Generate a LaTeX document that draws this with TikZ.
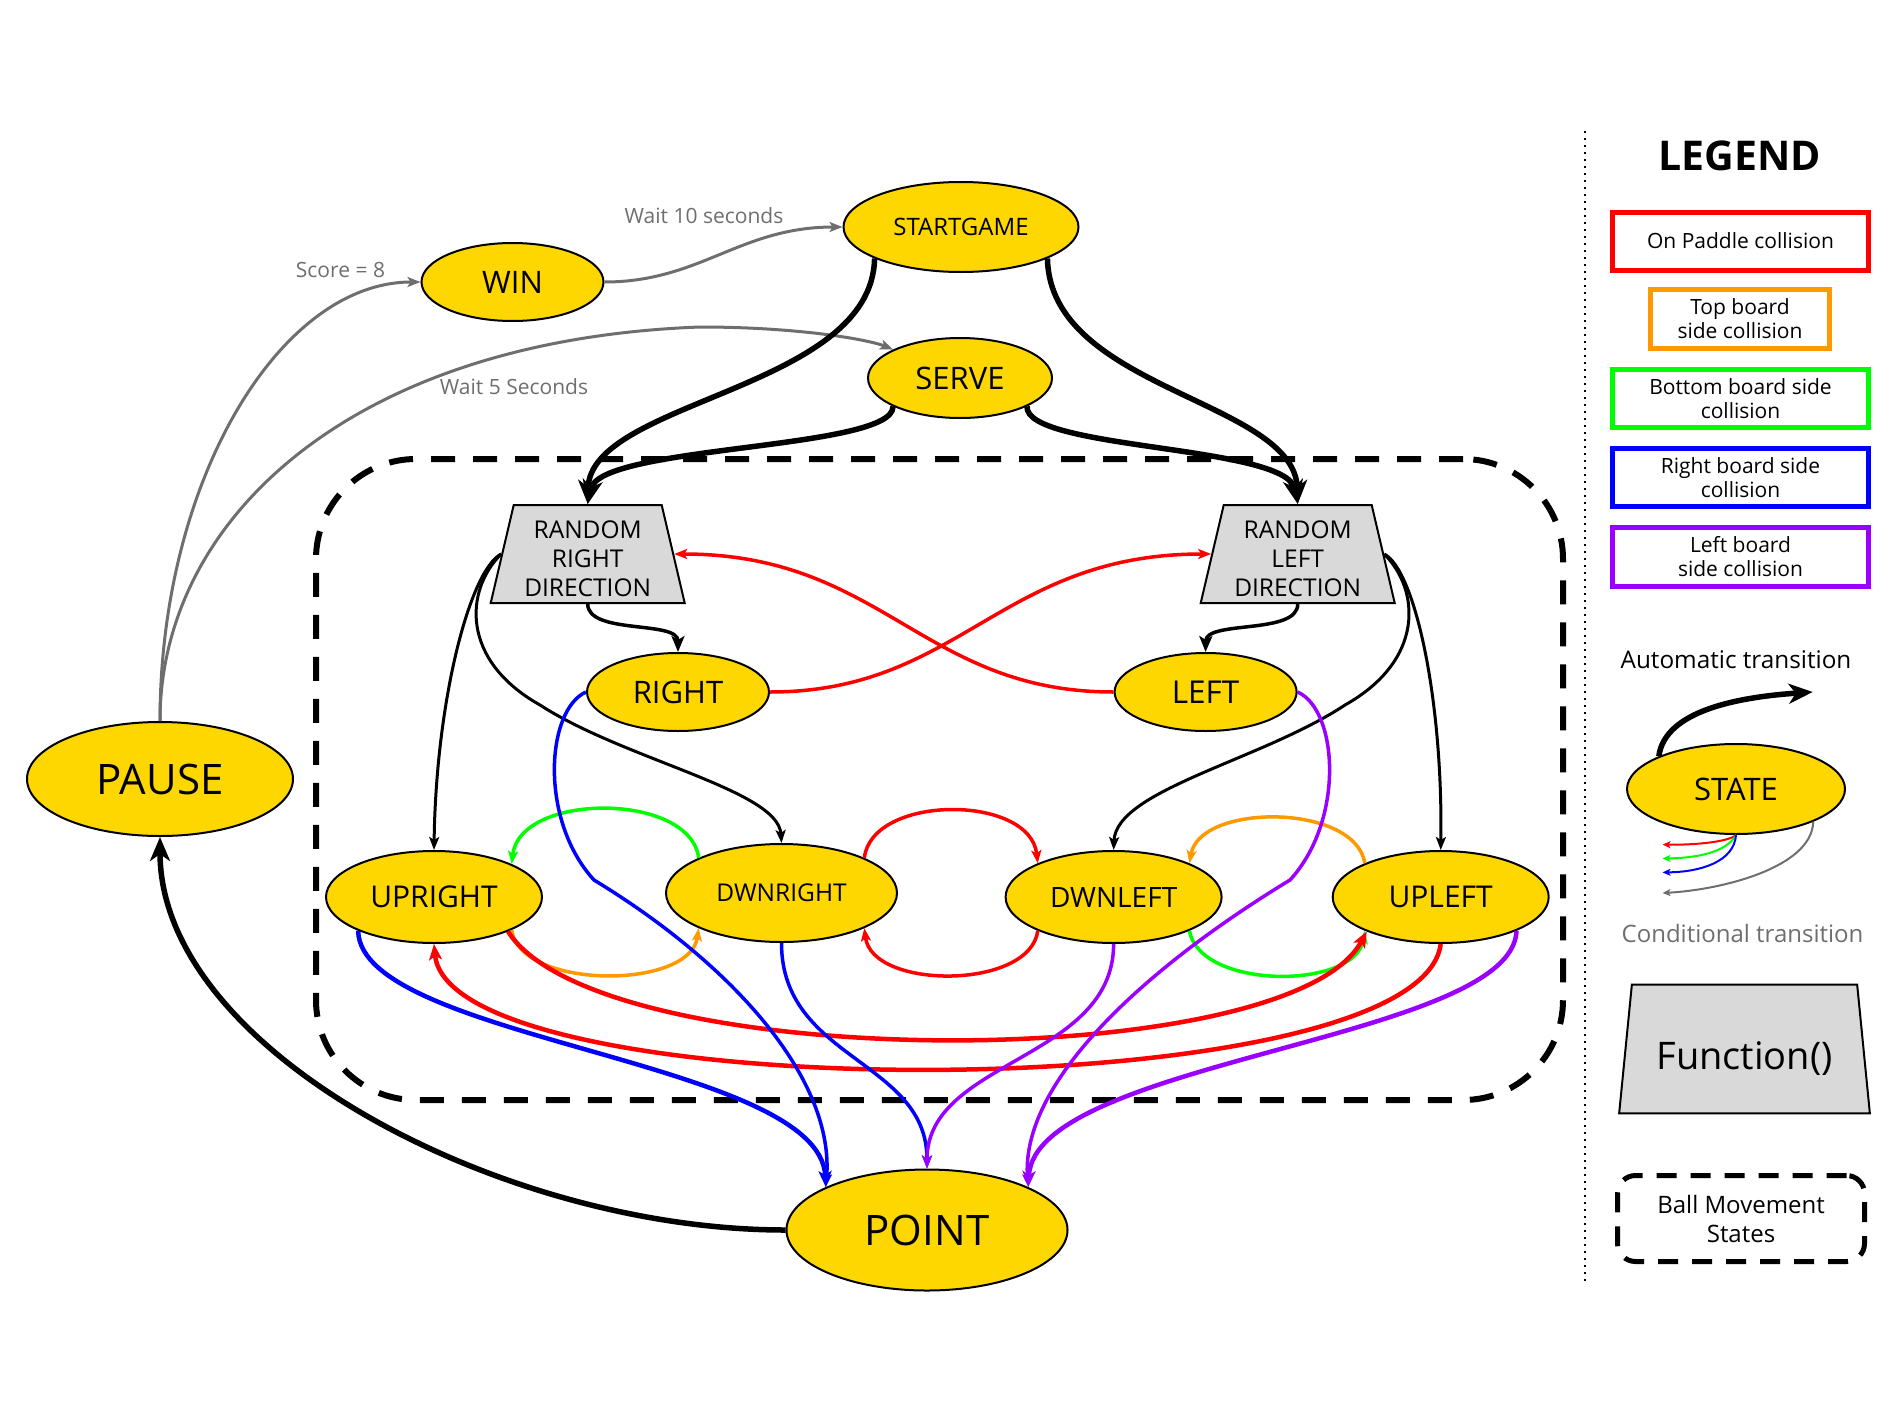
\documentclass[tikz,border=0pt]{standalone}
\usepackage{fontspec}
\setmainfont{Open Sans}
\usetikzlibrary{shapes.geometric,arrows.meta}
\definecolor{sy}{HTML}{FFD700}
\definecolor{fg}{HTML}{D9D9D9}
\definecolor{cred}{HTML}{FF0000}
\definecolor{corange}{HTML}{FF9900}
\definecolor{cgreen}{HTML}{00FF00}
\definecolor{cblue}{HTML}{0000FF}
\definecolor{cpurple}{HTML}{9900FF}
\definecolor{cgray}{HTML}{6E6E6E}
\newcommand{\fsz}[2]{\fontsize{#1}{#2}\selectfont}
\begin{document}
\begin{tikzpicture}[x=1pt,y=-1pt,
  state/.style={ellipse, draw=black, line width=2pt, fill=sy, inner sep=0pt},
  func/.style={trapezium, draw=black, line width=2pt, fill=fg, inner sep=0pt,
    trapezium stretches=true, align=center},
  bigtip/.style={-{Stealth[length=24pt,width=20pt,inset=7pt]}},
  midtip/.style={-{Stealth[length=16pt,width=13pt,inset=4pt]}},
  smalltip/.style={-{Stealth[length=13pt,width=10pt,inset=3pt]}},
  tinytip/.style={-{Stealth[length=8pt,width=7pt,inset=2pt]}},
  thickedge/.style={line width=5.5pt, bigtip},
  midedge/.style={line width=3.5pt, midtip},
  thinedge/.style={line width=3pt, smalltip},
  grayedge/.style={line width=3pt, draw=cgray, smalltip},
  coledge/.style={line width=3.5pt, smalltip},
  longedge/.style={line width=4.5pt, midtip},
  glabel/.style={text=cgray, font=\fsz{21}{25}},
  legbox/.style={draw, line width=5pt, align=center, inner sep=0pt, font=\fsz{21}{24}},
  ballbox/.style={draw, line width=6pt, dash pattern=on 24pt off 18pt},
]
\useasboundingbox (0,0) rectangle (1900,1426);

% ball movement region
\node[ballbox, rounded corners=100pt, minimum width=1247pt, minimum height=641pt] (region) at (939.5,779.5) {};

% states
\node[state, minimum width=235pt, minimum height=90pt, font=\fsz{24}{29}] (start) at (961,227) {STARTGAME};
\node[state, minimum width=182pt, minimum height=78pt, font=\fsz{31}{36}] (win) at (512.5,282) {WIN};
\node[state, minimum width=184pt, minimum height=80pt, font=\fsz{31}{36}] (serve) at (960,378) {SERVE};
\node[state, minimum width=266pt, minimum height=114pt, font=\fsz{42}{50}] (pause) at (160,779) {PAUSE};
\node[state, minimum width=281pt, minimum height=121pt, font=\fsz{42}{50}] (point) at (927,1230) {POINT};
\node[state, minimum width=182pt, minimum height=78pt, font=\fsz{31}{36}] (right) at (678,692) {RIGHT};
\node[state, minimum width=182pt, minimum height=78pt, font=\fsz{31.5}{36}] (left) at (1205.6,692) {LEFT};
\node[state, minimum width=216pt, minimum height=92pt, font=\fsz{30}{36}] (upright) at (434,897) {UPRIGHT};
\node[state, minimum width=231pt, minimum height=98pt, font=\fsz{24.5}{29}] (dwnright) at (781.5,893) {DWNRIGHT};
\node[state, minimum width=216pt, minimum height=92pt, font=\fsz{28}{34}] (dwnleft) at (1113.6,897) {DWNLEFT};
\node[state, minimum width=216pt, minimum height=92pt, font=\fsz{30}{36}] (upleft) at (1440.7,897) {UPLEFT};

% functions
\node[func, trapezium left angle=77, trapezium right angle=77, minimum width=194pt, minimum height=98pt, font=\fsz{24.5}{29}, text height=85.5pt, text depth=0pt] (rrd) at (587.7,554) {RANDOM\\RIGHT\\DIRECTION};
\node[func, trapezium left angle=77, trapezium right angle=77, minimum width=194pt, minimum height=98pt, font=\fsz{24.5}{29}, text height=85.5pt, text depth=0pt] (rld) at (1297.7,554) {RANDOM\\LEFT\\DIRECTION};

% gray conditional transitions
\draw[grayedge] (win.east) .. controls (700,282) and (740,227) .. (start.west);
\draw[grayedge] (pause.north) .. controls (160,480) and (280,282) .. (win.west);
\draw[grayedge] (pause.north) .. controls (160,520) and (350,340) .. (700,327) .. controls (800,327) and (870,340) .. (serve.157);
\node[glabel] (lwait10) at (704,216) {Wait 10 seconds};
\node[glabel] (lscore) at (340.5,270) {Score = 8};
\node[glabel] (lwait5) at (514,386.5) {Wait 5 Seconds};

% thick black automatic transitions
\draw[thickedge] (start.200) .. controls (872,390) and (590,400) .. (rrd.north);
\draw[thickedge] (start.340) .. controls (1050,390) and (1295,400) .. (rld.north);
\draw[thickedge] (serve.203) .. controls (894,450) and (600,445) .. (rrd.north);
\draw[thickedge] (serve.337) .. controls (1025,450) and (1286,445) .. (rld.north);
\draw[thickedge] (point.west) .. controls (500,1230) and (160,1050) .. (pause.south);

\draw[midedge] (rrd.south) .. controls (588,635) and (678,620) .. (right.north);
\draw[midedge] (rld.south) .. controls (1298,635) and (1206,620) .. (left.north);

\draw[thinedge] (rrd.west) .. controls (470,570) and (436,700) .. (upright.north);
\draw[thinedge] (rrd.west) .. controls (465,590) and (460,660) .. (540,705) .. controls (625,760) and (778,790) .. (dwnright.north);
\draw[thinedge] (rld.east) .. controls (1420,590) and (1425,660) .. (1345,705) .. controls (1262,760) and (1116,790) .. (dwnleft.north);
\draw[thinedge] (rld.east) .. controls (1415,570) and (1443,700) .. (upleft.north);

% paddle collisions
\draw[coledge, draw=cred] (right.east) .. controls (960,692) and (1000,554) .. (rld.west);
\draw[coledge, draw=cred] (left.west) .. controls (922.6,692) and (882.6,554) .. (rrd.east);

% local cycles
\draw[coledge, draw=cgreen] (dwnright.157) .. controls (690,792) and (520,792) .. (upright.23);
\draw[coledge, draw=corange] (upright.337) .. controls (520,990) and (690,990) .. (dwnright.203);
\draw[coledge, draw=cred] (dwnright.23) .. controls (872,794) and (1030,794) .. (dwnleft.156);
\draw[coledge, draw=cred] (dwnleft.204) .. controls (1030,990) and (872,990) .. (dwnright.337);
\draw[coledge, draw=corange] (upleft.156) .. controls (1355,803) and (1200,803) .. (dwnleft.24);
\draw[coledge, draw=cgreen] (dwnleft.336) .. controls (1200,990) and (1355,990) .. (upleft.204);

% long paddle arcs
\draw[longedge, draw=cred] (upright.335) .. controls (600,1075) and (1290,1075) .. (upleft.205);
\draw[longedge, draw=cred] (upleft.south) .. controls (1420,1110) and (450,1110) .. (upright.south);

% side collisions to POINT
\draw[longedge, draw=cblue] (upright.204) .. controls (360,1040) and (820,1060) .. (point.157);
\draw[coledge, draw=cblue] (right.west) .. controls (546,710) and (539,820) .. (594,880) .. controls (734,965) and (835,1080) .. (point.157);
\draw[coledge, draw=cblue] (dwnright.south) .. controls (781.5,1060) and (927,1060) .. (point.north);
\draw[coledge, draw=cpurple] (dwnleft.south) .. controls (1113.6,1060) and (927,1060) .. (point.north);
\draw[coledge, draw=cpurple] (left.east) .. controls (1338,710) and (1345,820) .. (1290,880) .. controls (1150,965) and (1020,1080) .. (point.23);
\draw[longedge, draw=cpurple] (upleft.336) .. controls (1513,1040) and (1035,1060) .. (point.23);

% legend
\coordinate (septop) at (1585,131);
\coordinate (sepbot) at (1585,1284);
\draw[line width=2pt, dash pattern=on 2pt off 5pt] (septop) -- (sepbot);
\node[font=\bfseries\fsz{41}{49}] (legtitle) at (1740,156) {LEGEND};
\node[legbox, draw=cred, minimum width=256pt, minimum height=58pt] (lg1) at (1740.5,241) {On Paddle collision};
\node[legbox, draw=corange, minimum width=179pt, minimum height=59pt] (lg2) at (1740,319) {Top board\\side collision};
\node[legbox, draw=cgreen, minimum width=256pt, minimum height=58pt] (lg3) at (1740.5,398.5) {Bottom board side\\collision};
\node[legbox, draw=cblue, minimum width=256pt, minimum height=58pt] (lg4) at (1740.5,477.5) {Right board side\\collision};
\node[legbox, draw=cpurple, minimum width=256pt, minimum height=59pt] (lg5) at (1740.5,557) {Left board\\side collision};

\node[font=\fsz{24.3}{29}] (autolbl) at (1736,660) {Automatic transition};
\node[state, minimum width=218pt, minimum height=90pt, font=\fsz{31}{37}] (lstate) at (1736,789) {STATE};
\coordinate (autoend) at (1812.7,692);
\draw[thickedge] (lstate.157) .. controls (1665,710) and (1740,697) .. (autoend);
\coordinate (cr) at (1662.5,844.6);
\coordinate (cg) at (1662.5,858.5);
\coordinate (cb) at (1662.5,872.4);
\coordinate (cgr) at (1662.5,893);
\draw[line width=2pt, draw=cred, tinytip] (lstate.south) .. controls (1728,842) and (1695,845) .. (cr);
\draw[line width=2pt, draw=cgreen, tinytip] (lstate.south) .. controls (1726,853) and (1695,858) .. (cg);
\draw[line width=2pt, draw=cblue, tinytip] (lstate.south) .. controls (1734,862) and (1700,872) .. (cb);
\draw[line width=2pt, draw=cgray, tinytip] (lstate.337) .. controls (1812,868) and (1720,890) .. (cgr);
\node[text=cgray, font=\fsz{24}{29}] (condlbl) at (1742.5,933) {Conditional transition};
\node[func, trapezium left angle=76.4, trapezium right angle=76.4, minimum width=251pt, minimum height=128.6pt, font=\fsz{38}{46}, text height=41pt, text depth=0pt] (lfunc) at (1744.5,1049) {Function()};
\node[ballbox, line width=5pt, dash pattern=on 20pt off 14pt, rounded corners=18pt, minimum width=247pt, minimum height=86pt, align=center, font=\fsz{24}{29}] (lball) at (1741,1218.5) {Ball Movement\\States};
\end{tikzpicture}
\end{document}
